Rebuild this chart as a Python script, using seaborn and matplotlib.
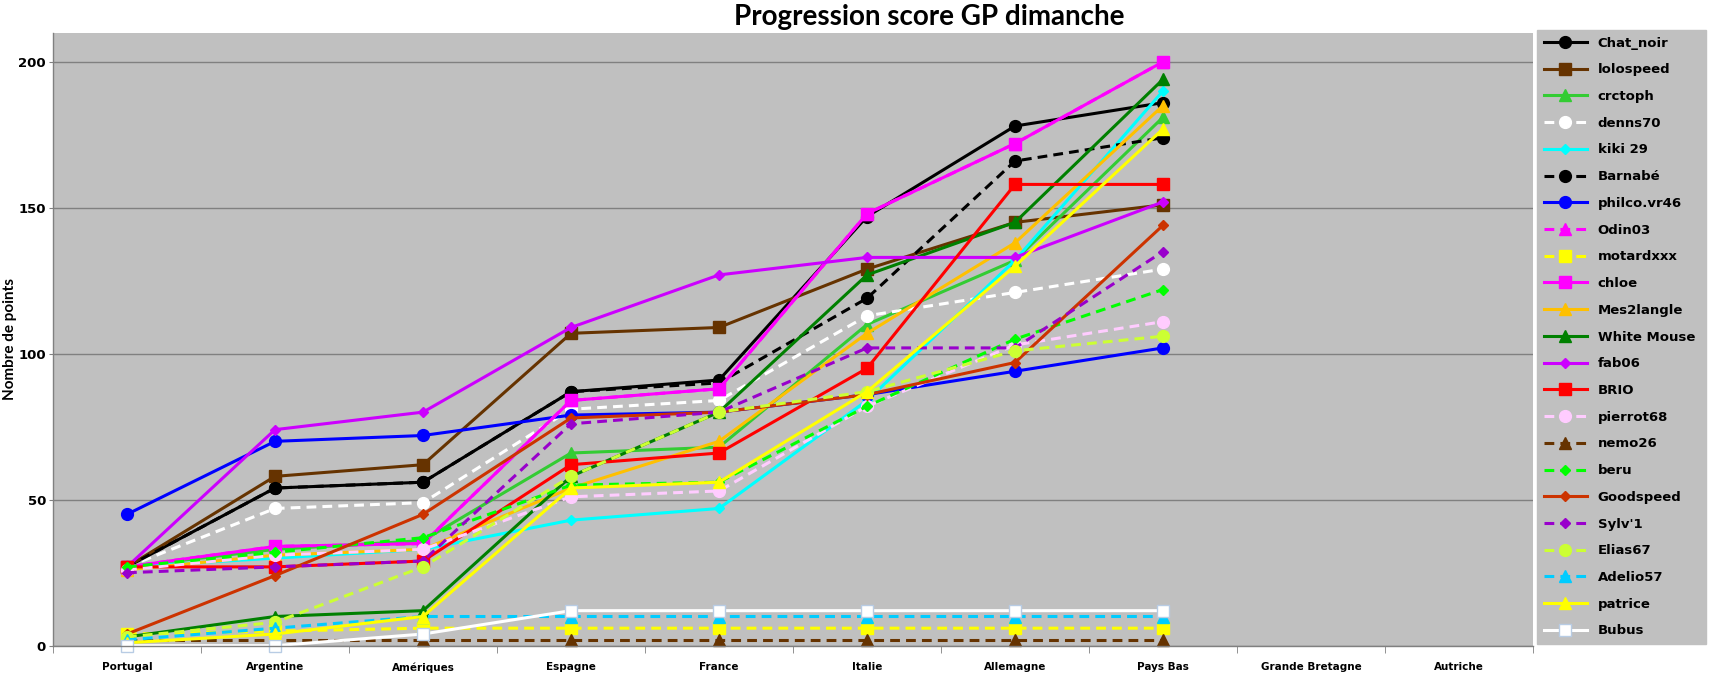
import matplotlib
matplotlib.use("Agg")
import matplotlib.pyplot as plt
import seaborn as sns
import pandas as pd
from matplotlib.lines import Line2D

# ---------------- data ----------------
categories = ["Portugal", "Argentine", "Amériques", "Espagne", "France", "Italie",
              "Allemagne", "Pays Bas", "Grande Bretagne", "Autriche"]

chat_noir   = [27, 54, 56, 87, 91, 147, 178, 186]
lolospeed   = [27, 58, 62, 107, 109, 129, 145, 151]
crctoph     = [27, 33, 36, 66, 68, 110, 132, 181]
denns70     = [27, 47, 49, 81, 84, 113, 121, 129]
kiki29      = [27, 30, 33, 43, 47, 84, 132, 190]
barnabe     = [27, 54, 56, 87, 90, 119, 166, 174]
philco      = [45, 70, 72, 79, 80, 86, 94, 102]
odin03      = [27, 34, 35, 84, 88, 148, 172, 200]
motardxxx   = [4, 5, 6, 6, 6, 6, 6, 6]
chloe       = [27, 34, 35, 84, 88, 148, 172, 200]
mes2langle  = [26, 31, 33, 54, 70, 107, 138, 185]
white_mouse = [3, 10, 12, 58, 80, 127, 145, 194]
fab06       = [27, 74, 80, 109, 127, 133, 133, 152]
brio        = [27, 27, 29, 62, 66, 95, 158, 158]
pierrot68   = [26, 31, 33, 51, 53, 82, 103, 111]
nemo26      = [2, 2, 2, 2, 2, 2, 2, 2]
beru        = [27, 32, 37, 55, 56, 82, 105, 122]
goodspeed   = [4, 24, 45, 78, 80, 86, 97, 144]
sylv1       = [25, 27, 29, 76, 80, 102, 102, 135]
elias67     = [3, 8, 27, 58, 80, 87, 101, 106]
adelio57    = [2, 6, 10, 10, 10, 10, 10, 10]
patrice     = [1, 4, 10, 54, 56, 87, 130, 177]
bubus       = [0, 0, 4, 12, 12, 12, 12, 12]

players = ["Chat_noir", "lolospeed", "crctoph", "denns70", "kiki 29", "Barnabé",
           "philco.vr46", "Odin03", "motardxxx", "chloe", "Mes2langle", "White Mouse",
           "fab06", "BRIO", "pierrot68", "nemo26", "beru", "Goodspeed", "Sylv'1",
           "Elias67", "Adelio57", "patrice", "Bubus"]
values = [chat_noir, lolospeed, crctoph, denns70, kiki29, barnabe, philco, odin03,
          motardxxx, chloe, mes2langle, white_mouse, fab06, brio, pierrot68, nemo26,
          beru, goodspeed, sylv1, elias67, adelio57, patrice, bubus]

# ---------------- styles ----------------
# (color, marker, dashed, markersize, marker edge color)
styles = {
    "Chat_noir":   ("#000000", "o", False, 8.5, None),
    "lolospeed":   ("#663300", "s", False, 8.0, None),
    "crctoph":     ("#33CC33", "^", False, 8.5, None),
    "denns70":     ("#FFFFFF", "o", True, 8.5, None),
    "kiki 29":     ("#00FFFF", "D", False, 5.0, None),
    "Barnabé":     ("#000000", "o", True, 8.5, None),
    "philco.vr46": ("#0000FF", "o", False, 8.5, None),
    "Odin03":      ("#FF00FF", "^", True, 8.5, None),
    "motardxxx":   ("#FFFF00", "s", True, 8.0, None),
    "chloe":       ("#FF00FF", "s", False, 8.0, None),
    "Mes2langle":  ("#FFC000", "^", False, 8.5, None),
    "White Mouse": ("#008000", "^", False, 8.5, None),
    "fab06":       ("#CC00FF", "D", False, 5.5, None),
    "BRIO":        ("#FF0000", "s", False, 8.0, None),
    "pierrot68":   ("#FFCCFF", "o", True, 8.5, None),
    "nemo26":      ("#663300", "^", True, 8.5, None),
    "beru":        ("#00FF00", "D", True, 5.5, None),
    "Goodspeed":   ("#CC3300", "D", False, 5.5, None),
    "Sylv'1":      ("#9900CC", "D", True, 5.5, None),
    "Elias67":     ("#CCFF33", "o", True, 8.5, None),
    "Adelio57":    ("#00CCFF", "^", True, 8.5, None),
    "patrice":     ("#FFFF00", "^", False, 8.5, None),
    "Bubus":       ("#FFFFFF", "s", False, 8.0, "#B8CCE4"),
}
DASH = (0, (3.2, 2.0))
LW = 2.2

rows = []
for name, vals in zip(players, values):
    for i, v in enumerate(vals):
        rows.append({"joueur": name, "idx": i, "points": v})
df = pd.DataFrame(rows)

# ---------------- figure ----------------
plt.rcParams["font.family"] = ["DejaVu Sans"]
fig = plt.figure(figsize=(17.12, 6.81), dpi=100)
fig.patch.set_facecolor("white")
ax = fig.add_axes([53 / 1712, 1 - 645.7 / 681, (1533 - 53) / 1712, (645.7 - 32.6) / 681])
ax.set_facecolor("#C0C0C0")

handles = []
for name in players:
    color, marker, dashed, ms, mec = styles[name]
    ls = DASH if dashed else "-"
    edge = mec if mec else color
    sub = df[df["joueur"] == name]
    sns.lineplot(data=sub, x="idx", y="points", ax=ax, color=color, marker=marker,
                 markersize=ms, markeredgecolor=edge, markeredgewidth=1.0,
                 linestyle=ls, linewidth=LW, errorbar=None, sort=False,
                 legend=False, clip_on=False)
    handles.append(Line2D([], [], color=color, marker=marker, markersize=ms,
                          markeredgecolor=edge, markeredgewidth=1.0,
                          linestyle=ls, linewidth=LW, label=name))

# axes
ax.set_xlim(-0.5, len(categories) - 0.5)
ax.set_ylim(0, 210)
ax.set_xticks(range(len(categories)))
ax.set_xticklabels(categories, fontsize=7.5, fontweight="bold")
ax.set_xticks([i - 0.5 for i in range(len(categories) + 1)], minor=True)
ax.tick_params(axis="x", which="major", length=0, pad=12)
ax.tick_params(axis="x", which="minor", length=5, color="#808080", direction="out")
ax.set_yticks([0, 50, 100, 150, 200])
ax.set_yticklabels(["0", "50", "100", "150", "200"], fontsize=9.5, fontweight="bold")
ax.tick_params(axis="y", length=3, color="#808080", direction="out", pad=2)
ax.yaxis.grid(True, color="#808080", linewidth=1.0)
ax.set_axisbelow(True)
for side in ["top", "right"]:
    ax.spines[side].set_visible(False)
for side in ["left", "bottom"]:
    ax.spines[side].set_color("#808080")
    ax.spines[side].set_linewidth(1.0)

ax.set_xlabel("")
ax.set_ylabel("Nombre de points", fontsize=11, fontweight="bold", family=["Lato", "DejaVu Sans"])
ax.yaxis.set_label_coords(-0.0245, 0.5)

fig.text(929 / 1712, 1 - 17 / 681, "Progression score GP dimanche", ha="center", va="center",
         fontsize=20, fontweight="bold", family=["Lato", "DejaVu Sans"])

leg = fig.legend(handles=handles, loc="upper left",
                 bbox_to_anchor=(1537 / 1712, 0.056, (1706 - 1537) / 1712, 1 - 30 / 681 - 0.056),
                 mode="expand", borderaxespad=0, frameon=True, fancybox=False,
                 facecolor="#C0C0C0", edgecolor="#C0C0C0", framealpha=1,
                 prop={"size": 9.5, "weight": "bold"}, handlelength=3.3, handletextpad=0.8,
                 labelspacing=1.04, borderpad=0.5, numpoints=1)

fig.savefig("out.png", dpi=100, facecolor="white")
